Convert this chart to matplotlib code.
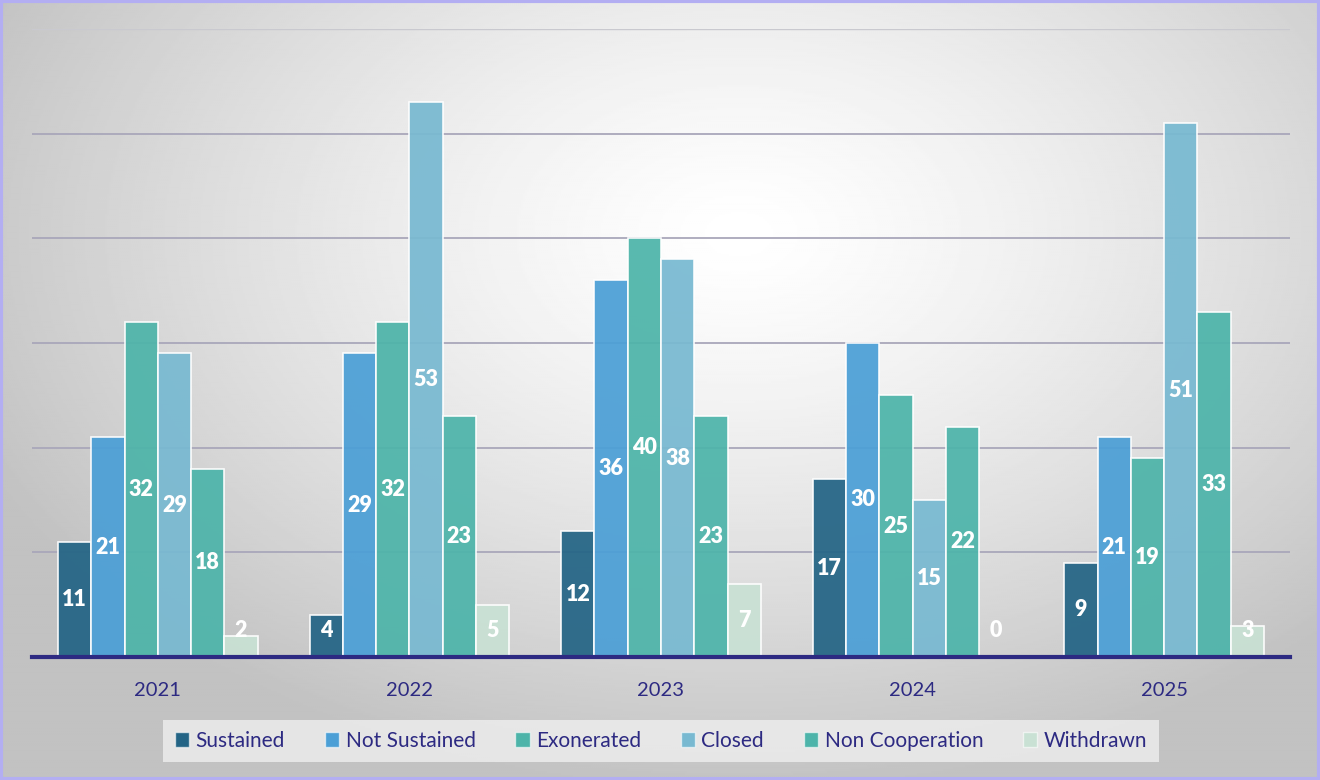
import numpy as np
import matplotlib
matplotlib.use("Agg")
import matplotlib.pyplot as plt
from matplotlib.patches import Patch

years = ["2021", "2022", "2023", "2024", "2025"]
categories = ["Sustained", "Not Sustained", "Exonerated", "Closed",
              "Non Cooperation", "Withdrawn"]
sustained = [11, 4, 12, 17, 9]
not_sustained = [21, 29, 36, 30, 21]
exonerated = [32, 32, 40, 25, 19]
closed = [29, 53, 38, 15, 51]
non_cooperation = [18, 23, 23, 22, 33]
withdrawn = [2, 5, 7, 0, 3]

series = [sustained, not_sustained, exonerated, closed, non_cooperation, withdrawn]
colors = ["#236485", "#4b9fd6", "#4db4a9", "#78b9d1", "#4db4aa", "#c9e1d4"]
navy = "#2d2a82"

plt.rcParams["font.family"] = ["Lato", "DejaVu Sans"]

fig = plt.figure(figsize=(13.2, 7.8), dpi=100)

# radial gradient backdrop
bg = fig.add_axes([0, 0, 1, 1], zorder=-10)
yy, xx = np.mgrid[0:1:400j, 0:1:660j]
r = np.sqrt(((xx - 0.56) / 0.75) ** 2 + ((yy - 0.70) / 0.85) ** 2)
shade = np.clip(1.0 - 0.30 * r ** 1.3, 0.76, 1.0)
bg.imshow(shade, cmap="gray", vmin=0, vmax=1, origin="lower",
          extent=[0, 1, 0, 1], aspect="auto", interpolation="bilinear")
bg.axis("off")
for spine_xy in ([0.001, 0.001], [0, 1]), ([0, 1], [0.999, 0.999]), \
        ([0.9995, 0.9995], [0, 1]), ([0, 1], [0.001, 0.001]):
    bg.plot(*spine_xy, color="#b3aef2", lw=3, transform=bg.transAxes, clip_on=False)
bg.set_xlim(0, 1)
bg.set_ylim(0, 1)

ax = fig.add_axes([32 / 1320, 1 - 657 / 780, 1258 / 1320, 628 / 780])
ax.patch.set_alpha(0)

x = np.arange(len(years))
width = 0.1322
for i, (vals, col) in enumerate(zip(series, colors)):
    pos = x + (i - 2.5) * width
    ax.bar(pos, vals, width, color=col, alpha=0.93,
           edgecolor=(1, 1, 1, 0.55), linewidth=1.2, zorder=3,
           label=categories[i])
    for px, v in zip(pos, vals):
        ax.text(px, max(v / 2, 2.5), str(v), ha="center", va="center",
                color="white", fontsize=15.5, fontweight="heavy", zorder=5)

ax.set_xlim(-0.5, 4.5)
ax.set_ylim(0, 60)
ax.set_yticks([10, 20, 30, 40, 50])
for yv in [10, 20, 30, 40, 50]:
    ax.axhline(yv, color="#a9a7ba", lw=1.3, zorder=1)
ax.axhline(60, color="#c9c9cf", lw=1.0, zorder=1)
ax.axhline(0, color=navy, lw=3, zorder=6, clip_on=False)

ax.set_xticks(x)
ax.set_xticklabels(years, fontsize=14.5, color=navy)
ax.tick_params(axis="x", length=0, pad=18)
ax.tick_params(axis="y", length=0, labelleft=False)
for s in ax.spines.values():
    s.set_visible(False)

handles = [Patch(facecolor=c, edgecolor=(1, 1, 1, 0.6), label=l)
           for c, l in zip(colors, categories)]
leg = fig.legend(handles=handles, loc="center", ncol=6,
                 bbox_to_anchor=(661 / 1320, 1 - 741 / 780),
                 frameon=True, fancybox=False, fontsize=15,
                 handlelength=0.7, handleheight=0.7, handletextpad=0.3,
                 columnspacing=1.9, borderpad=0.55)
leg.get_frame().set_facecolor("#efefef")
leg.get_frame().set_edgecolor("none")
for t in leg.get_texts():
    t.set_color(navy)

fig.savefig("out.png", dpi=100)
